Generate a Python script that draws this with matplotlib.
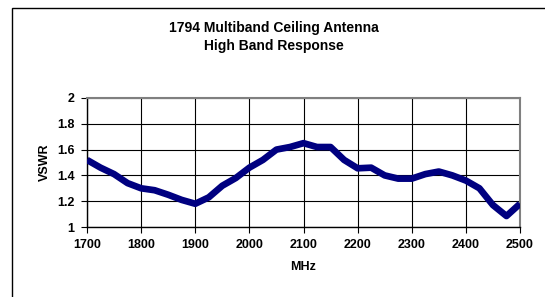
import matplotlib
matplotlib.use("Agg")
import matplotlib.pyplot as plt
from matplotlib.patches import Rectangle

freq_mhz = [1700, 1725, 1750, 1775, 1800, 1825, 1850, 1875, 1900, 1925, 1950, 1975,
            2000, 2025, 2050, 2075, 2100, 2125, 2150, 2175, 2200, 2225, 2250, 2275,
            2300, 2325, 2350, 2375, 2400, 2425, 2450, 2475, 2500]
vswr = [1.52, 1.46, 1.41, 1.34, 1.30, 1.285, 1.25, 1.21, 1.18, 1.23, 1.32, 1.38,
        1.46, 1.52, 1.60, 1.62, 1.65, 1.62, 1.62, 1.52, 1.455, 1.46, 1.40, 1.375,
        1.375, 1.41, 1.43, 1.40, 1.36, 1.30, 1.17, 1.085, 1.18]
x_ticks = [1700, 1800, 1900, 2000, 2100, 2200, 2300, 2400, 2500]
y_ticks = [1.0, 1.2, 1.4, 1.6, 1.8, 2.0]
y_labels = ["1", "1.2", "1.4", "1.6", "1.8", "2"]
title = "1794 Multiband Ceiling Antenna\nHigh Band Response"

plt.rcParams['font.family'] = ['Liberation Sans', 'DejaVu Sans']
W, H = 545, 297
fig = plt.figure(figsize=(W / 100, H / 100), dpi=100)

# outer chart frame
fig.patches.append(Rectangle((12 / W, -0.2), 1.2, 1 - 8 / H + 0.2, transform=fig.transFigure,
                             fill=False, edgecolor='black', linewidth=1.0))

ax = fig.add_axes([87 / W, 1 - 227 / H, (520 - 87) / W, (227 - 98) / H])
ax.plot(freq_mhz, vswr, color='#000080', linewidth=4.8, solid_joinstyle='round',
        solid_capstyle='butt', zorder=3)
ax.set_xlim(1700, 2500)
ax.set_ylim(1.0, 2.0)
ax.set_xticks(x_ticks)
ax.set_xticklabels([str(t) for t in x_ticks])
ax.set_yticks(y_ticks)
ax.set_yticklabels(y_labels)
ax.grid(True, color='black', linewidth=0.8)
ax.set_axisbelow(True)
for s in ['top', 'right']:
    ax.spines[s].set_color('#808080')
    ax.spines[s].set_linewidth(1.5)
for s in ['left', 'bottom']:
    ax.spines[s].set_color('black')
    ax.spines[s].set_linewidth(1.0)
ax.tick_params(direction='out', length=4, width=0.8, labelsize=9, pad=5)
for lbl in ax.get_xticklabels() + ax.get_yticklabels():
    lbl.set_fontweight('bold')
ax.set_xlabel("MHz", fontsize=9, fontweight='bold', labelpad=7)
ax.set_ylabel("VSWR", fontsize=9, fontweight='bold', labelpad=4)

fig.text(274 / W, 1 - 37 / H, title, ha='center', va='center', fontsize=10,
         fontweight='bold', linespacing=1.45)

fig.savefig("out.png", dpi=100)
